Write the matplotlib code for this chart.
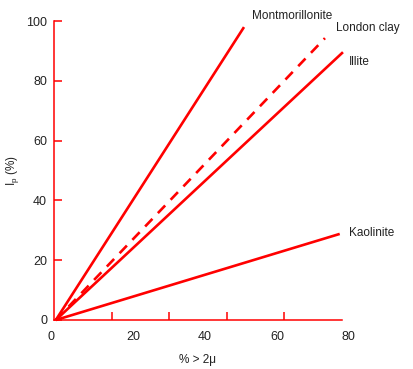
import numpy as np
import matplotlib
matplotlib.use('Agg')
import matplotlib.pyplot as plt
from matplotlib.ticker import FixedLocator, NullFormatter

plt.rcParams['font.family'] = ['Liberation Sans', 'DejaVu Sans']

# clay fraction (% > 2 micron) vs plasticity index, one line per clay
clays = ['Montmorillonite', 'London clay', 'Illite', 'Kaolinite']
x_start = [0.5, 0.5, 0.5, 0.5]
y_start = [0, 0, 0, 0]
x_end = [52.8, 75.3, 80.3, 79.4]
y_end = [98.0, 94.3, 89.6, 28.8]
styles = ['-', '--', '-', '-']

x_ticklabels = [0, 20, 40, 60, 80]
x_tickmarks = [0, 16, 32, 48, 64, 80]
y_ticks = [0, 20, 40, 60, 80, 100]

red = '#ff0000'

fig = plt.figure(figsize=(4.13, 3.69), dpi=100)
ax = fig.add_axes([0.1308, 0.1328, 0.697, 0.81])

for name, x0, y0, x1, y1, ls in zip(clays, x_start, y_start, x_end, y_end, styles):
    ax.plot([x0, x1], [y0, y1], color=red, lw=1.9, ls=ls, clip_on=False,
            dashes=(4, 3) if ls == '--' else (None, None), solid_capstyle='butt')

# curve labels next to the line ends
offsets = [(6, 4), (8, 3), (4, -7), (7, 1)]
valign = ['bottom', 'bottom', 'center', 'center']
for name, x1, y1, off, va in zip(clays, x_end, y_end, offsets, valign):
    ax.annotate(name, (x1, y1), xytext=off, textcoords='offset points',
                fontsize=8.5, color='#222222', ha='left', va=va,
                annotation_clip=False)

ax.set_xlim(0, 80)
ax.set_ylim(0, 100)
for s in ['top', 'right']:
    ax.spines[s].set_visible(False)
for s in ['left', 'bottom']:
    ax.spines[s].set_color(red)
    ax.spines[s].set_linewidth(1.1)

ax.xaxis.set_major_locator(FixedLocator(x_ticklabels))
ax.xaxis.set_minor_locator(FixedLocator(x_tickmarks))
ax.xaxis.set_minor_formatter(NullFormatter())
ax.set_xticklabels([str(v) for v in x_ticklabels])
ax.tick_params(axis='x', which='major', length=0, pad=8, labelsize=9, labelcolor='#222222')
ax.tick_params(axis='x', which='minor', direction='in', length=6, width=1.1, color=red)
for lab in ax.get_xticklabels()[1:]:
    lab.set_horizontalalignment('left')
ax.get_xticklabels()[0].set_horizontalalignment('right')

ax.set_yticks(y_ticks)
ax.tick_params(axis='y', direction='in', length=6, width=1.1, color=red,
               pad=5, labelsize=9, labelcolor='#222222')

ax.set_xlabel('% > 2\u03bc', fontsize=8.5, color='#222222', labelpad=8)
ax.set_ylabel('I$_\\mathregular{p}$ (%)', fontsize=8.5, color='#222222', labelpad=4)

fig.savefig('out.png', dpi=100)
